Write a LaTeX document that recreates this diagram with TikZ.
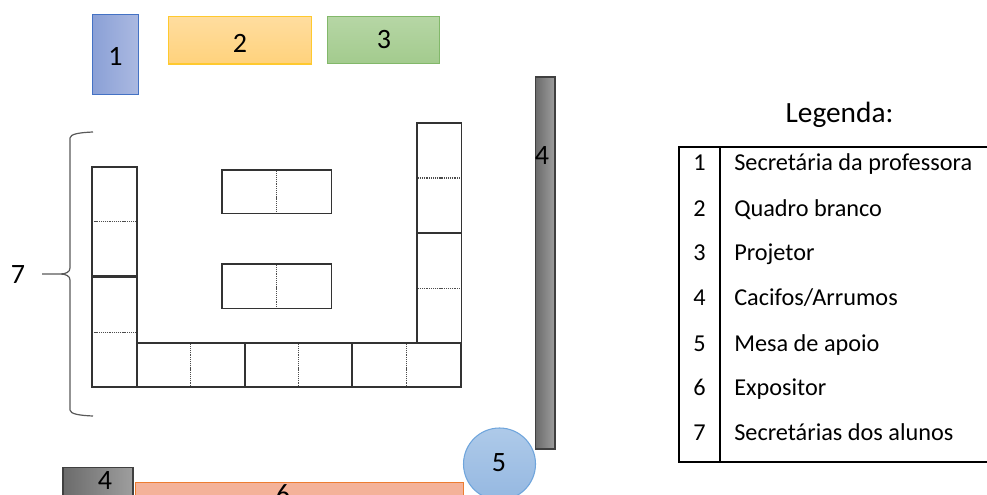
\documentclass[tikz,border=0pt]{standalone}
\usepackage{fontspec}
\setmainfont{Carlito}
\usetikzlibrary{positioning}
\definecolor{roomBlue}{HTML}{4472C4}
\definecolor{roomBlueL}{HTML}{8AA0D6}
\definecolor{roomBlueR}{HTML}{ABB9E1}
\definecolor{roomYellow}{HTML}{FFC92E}
\definecolor{roomYellowT}{HTML}{FFDD9F}
\definecolor{roomYellowB}{HTML}{FFD27C}
\definecolor{roomGreen}{HTML}{82B86A}
\definecolor{roomGreenT}{HTML}{B6D6A5}
\definecolor{roomGreenB}{HTML}{A3CB8E}
\definecolor{roomOrange}{HTML}{ED7D31}
\definecolor{roomSalmon}{HTML}{F4B299}
\definecolor{roomSky}{HTML}{6FA5DC}
\definecolor{roomSkyT}{HTML}{AECAE9}
\definecolor{roomSkyB}{HTML}{95B8E1}
\definecolor{roomGrey}{HTML}{404040}

\begin{document}
\begin{tikzpicture}[
    x=0.75pt, y=-0.75pt,
    furniture/.style={rectangle, inner sep=0pt, outer sep=0pt, line width=0.8pt},
    cabinet/.style={furniture, draw=roomGrey, left color=black!58, right color=black!38},
    desk/.style={rectangle, draw=black!80, line width=1.15pt, inner sep=0pt, outer sep=0pt},
    deskv/.style={desk, minimum width=33.4pt, minimum height=82pt},
    deskh/.style={desk, minimum width=81.5pt, minimum height=33.2pt},
    divider/.style={black!70, line width=1pt, dash pattern=on 0.8pt off 0.6pt, shorten >=1pt, shorten <=1pt},
    numlabel/.style={inner sep=0pt, font=\fontsize{21}{25}\selectfont},
    legendnum/.style={inner sep=0pt, anchor=base, font=\fontsize{18.2}{22}\selectfont},
    legendtext/.style={inner sep=0pt, anchor=base west, font=\fontsize{18.2}{22}\selectfont},
    tableline/.style={line width=1.5pt},
  ]
    \useasboundingbox (0,0) rectangle (987,495);
    \clip (0,0) rectangle (987,495);

    % top row
    \node[furniture, draw=roomBlue, left color=roomBlueL, right color=roomBlueR,
          minimum width=34.5pt, minimum height=60pt] (secprof) at (115.25,54.5) {};
    \node[furniture, draw=roomYellow, top color=roomYellowT, bottom color=roomYellowB,
          minimum width=107.5pt, minimum height=35.6pt] (quadro) at (240.25,40.25) {};
    \node[furniture, draw=roomGreen, top color=roomGreenT, bottom color=roomGreenB,
          minimum width=84.5pt, minimum height=35pt] (projetor) at (383.5,39.75) {};

    % side furniture
    \node[cabinet, minimum width=14.6pt, minimum height=279pt] (cacifos) at (545.25,263) {};
    \node[cabinet, minimum width=52.5pt, minimum height=40pt] (arrumos) at (98,494) {};
    \node[furniture, draw=roomOrange, fill=roomSalmon,
          minimum width=246pt, minimum height=30pt] (expositor) at (299.5,502.5) {};
    \node[circle, inner sep=0pt, outer sep=0pt, line width=0.8pt, draw=roomSky,
          top color=roomSkyT, bottom color=roomSkyB,
          minimum size=54pt] (mesa) at (499.5,464) {};

    % desks
    \node[deskv] (d1) at (114.5,221.5) {};
    \node[deskv, below=1pt of d1] (d2) {};
    \node[deskh, minimum width=81.3pt] (d3) at (190.75,365) {};
    \node[deskh, right=0pt of d3, minimum width=80.3pt] (d4) {};
    \node[deskh, right=0.3pt of d4, minimum width=81.3pt] (d5) {};
    \node[deskv, minimum height=82.5pt] (d6) at (439,178) {};
    \node[deskv, below=0.5pt of d6, minimum height=82pt] (d7) {};
    \node[deskh, minimum height=32.6pt, minimum width=82pt] (d8) at (276.75,191.75) {};
    \node[deskh, minimum height=33.4pt, minimum width=82pt] (d9) at (276.75,286) {};

    \foreach \d in {d1,d2,d6,d7}
      \draw[divider] (\d.west) -- (\d.east);
    \foreach \d in {d3,d4,d5,d8,d9}
      \draw[divider] (\d.north) -- (\d.south);

    % brace
    \coordinate (bracetop) at (93,132);
    \coordinate (bracetip) at (42,274);
    \coordinate (bracebot) at (93,416);
    \draw[black!65, line width=0.9pt] (bracetop) .. controls (80,132.5) and (70,134) .. (70,138)
      -- (70,268) .. controls (70,272) and (66,274) .. (60,274) -- (bracetip)
      (60,274) .. controls (66,274) and (70,276) .. (70,280)
      -- (70,410) .. controls (70,414) and (80,415.5) .. (bracebot);

    % numbers
    \foreach \n/\px/\py/\t in {l1/115.5/56/1, l2/240/43/2, l3/384/40/3, l4/542/156/4,
                               l5/499/463/5, l6/283/494/6, l7/105/481/4, l8/18/275/7}
      \node[numlabel] (\n) at (\px,\py) {\t};

    % legend
    \node[inner sep=0pt, font=\fontsize{22}{26}\selectfont] (legenda) at (839.5,114.5) {Legenda:};
    \coordinate (tl) at (679,147);
    \coordinate (tm) at (720,147);
    \coordinate (tr) at (990,147);
    \coordinate (bl) at (679,462);
    \coordinate (bm) at (720,462);
    \coordinate (br) at (990,462);
    \draw[tableline] (tr) -- (tl) -- (bl) -- (br);
    \draw[tableline] (tm) -- (bm);
    \foreach \n/\y/\t in {1/171/Secretária da professora, 2/216.5/Quadro branco,
                          3/260.5/Projetor, 4/305.5/{Cacifos/Arrumos}, 5/351/Mesa de apoio,
                          6/395.5/Expositor, 7/440.5/Secretárias dos alunos} {
      \node[legendnum] (n\n) at (699.5,\y) {\n};
      \node[legendtext] (t\n) at (734,\y) {\t};
    }
  \end{tikzpicture}
\end{document}
